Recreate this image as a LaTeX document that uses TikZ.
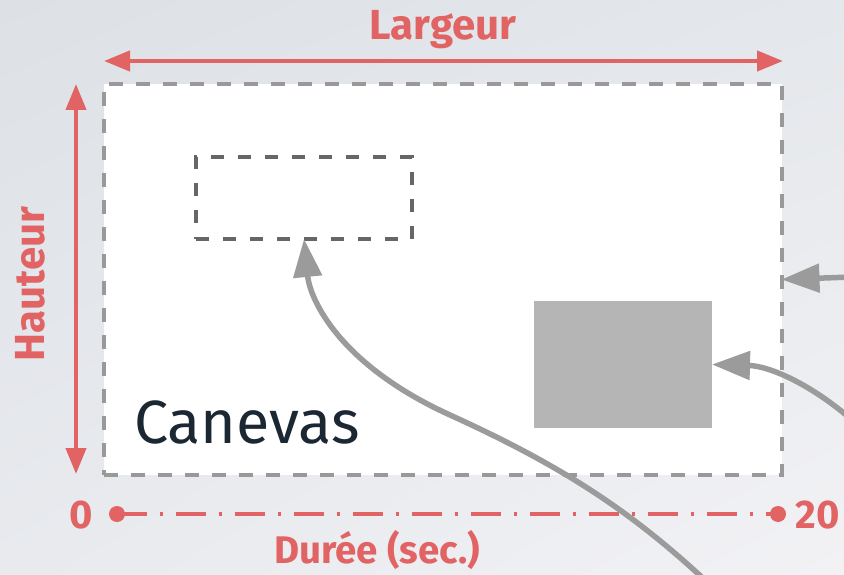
\documentclass[tikz,border=0pt]{standalone}
\usepackage{fontspec}
\setmainfont{Fira Sans}
\usetikzlibrary{arrows.meta,shadings}
\definecolor{redc}{RGB}{226,99,99}
\definecolor{dashgray}{RGB}{153,153,153}
\definecolor{darkdash}{RGB}{102,102,102}
\definecolor{fillgray}{RGB}{181,181,181}
\definecolor{arrowgray}{RGB}{155,155,155}
\definecolor{inkc}{RGB}{27,39,50}
\definecolor{bgA}{RGB}{221,225,230}
\definecolor{bgB}{RGB}{228,231,235}
\definecolor{bgC}{RGB}{232,234,238}
\definecolor{bgD}{RGB}{242,242,245}
\begin{document}
\begin{tikzpicture}[x=1pt,y=-1pt,
  canvasbox/.style={draw=dashgray, fill=white, line width=4pt, dash pattern=on 14pt off 13pt, outer sep=0pt, inner sep=0pt},
  innerbox/.style={draw=darkdash, line width=4pt, dash pattern=on 13pt off 14pt, outer sep=0pt, inner sep=0pt},
  solidbox/.style={fill=fillgray, outer sep=0pt, inner sep=0pt},
  redlabel/.style={text=redc, font=\fontsize{42}{44}\selectfont\bfseries, inner sep=0pt},
  redarrow/.style={draw=redc, line width=4.2pt, {Triangle[length=26pt,width=20pt]}-{Triangle[length=26pt,width=20pt]}},
  timeline/.style={draw=redc, line width=4.5pt, dash pattern=on 30pt off 13pt on 3pt off 13pt},
  grayarrow/.style={draw=arrowgray, line width=5.5pt, -{Triangle[length=38pt,width=28pt]}},
  dotc/.style={circle, fill=redc, minimum size=16pt, inner sep=0pt}
]
\useasboundingbox (0,0) rectangle (844,575);
\shade[upper left=bgA, upper right=bgB, lower left=bgC, lower right=bgD] (0,0) rectangle (844,575);

% canvas
\node[canvasbox, minimum width=678pt, minimum height=391pt] (canvas) at (442.5,279.5) {};
\node[innerbox, minimum width=216pt, minimum height=82pt] (inner) at (304,198) {};
\node[solidbox, minimum width=178pt, minimum height=127pt] (solid) at (623,364.5) {};
\node[anchor=base west, text=inkc, font=\fontsize{61}{64}\selectfont, inner sep=0pt] (canlabel) at (134,443) {Canevas};

% dimension arrows
\coordinate (wl) at (104,61);
\coordinate (wr) at (783,61);
\draw[redarrow] (wl) -- (wr);
\node[redlabel, anchor=base] (largeur) at (443,40) {Largeur};

\coordinate (ht) at (76,84);
\coordinate (hb) at (76,474);
\draw[redarrow] (ht) -- (hb);
\node[redlabel, anchor=base, rotate=90] (hauteur) at (44,284) {Hauteur};

% timeline
\node[dotc] (t0) at (117,514) {};
\node[dotc] (t1) at (778,514) {};
\draw[timeline] (t0.center) -- (t1.center);
\node[redlabel, anchor=base, font=\fontsize{40}{42}\selectfont\bfseries] (zero) at (81,528) {0};
\node[redlabel, anchor=base, font=\fontsize{40}{42}\selectfont\bfseries] (twenty) at (818,528) {20};
\node[redlabel, anchor=base, font=\fontsize{38.5}{40}\selectfont\bfseries] (duree) at (377,563) {Durée (sec.)};

% gray arrows
\coordinate (s1) at (707,582);
\coordinate (s2) at (852,420);
\coordinate (s3) at (852,277);
\draw[grayarrow] (s1) .. controls (630,510) and (560,465) .. (450,415) .. controls (340,365) and (310,300) .. (inner.south);
\draw[grayarrow] (s2) .. controls (812,385) and (770,366) .. (solid.east);
\draw[grayarrow] (s3) -- (canvas.east);
\end{tikzpicture}
\end{document}
